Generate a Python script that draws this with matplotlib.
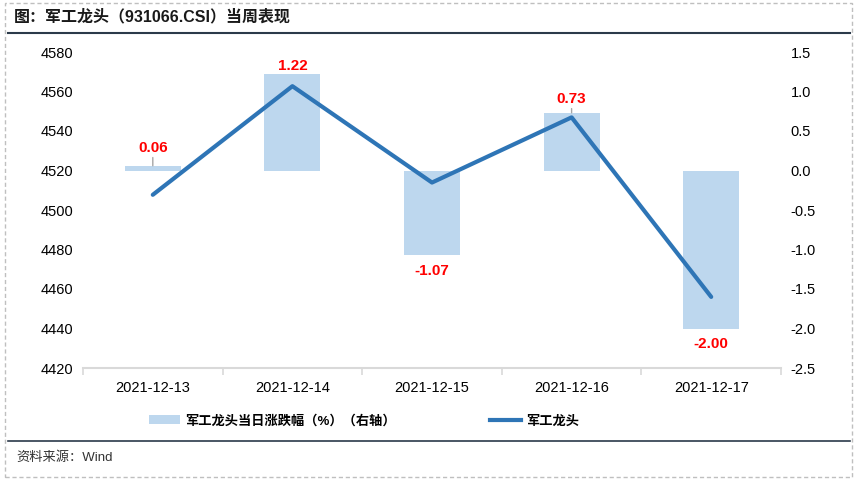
import matplotlib.pyplot as plt
from matplotlib.lines import Line2D
from matplotlib.patches import Rectangle, Patch
import numpy as np

plt.rcParams['font.family'] = ['Liberation Sans', 'Noto Sans CJK SC', 'DejaVu Sans']

dates = ['2021-12-13', '2021-12-14', '2021-12-15', '2021-12-16', '2021-12-17']
index_close = [4507.7, 4562.7, 4513.9, 4546.9, 4456.0]
pct_change = [0.06, 1.22, -1.07, 0.73, -2.00]
# label centre offsets in pixels from the bar end (positive = above)
label_offset = [18, 8, -16, 14, -15]
has_leader = [True, False, False, True, False]

bar_color = '#BDD7EE'
line_color = '#2E75B6'

fig = plt.figure(figsize=(8.58, 4.8), dpi=100)
ax = fig.add_axes([83 / 858, 1 - 368 / 480, (781 - 83) / 858, (368 - 52) / 480])
ax2 = ax.twinx()

x = np.arange(len(dates))

# bars on right axis, drawn behind the line
ax2.bar(x, pct_change, width=0.4, color=bar_color, zorder=1)
ax2.set_ylim(-2.5, 1.5)
ax2.set_yticks(np.arange(-2.5, 1.51, 0.5))
ax2.set_yticklabels([f'{v:.1f}' for v in np.arange(-2.5, 1.51, 0.5)])

for i, v in enumerate(pct_change):
    off = label_offset[i]
    arrow = None
    if has_leader[i]:
        arrow = dict(arrowstyle='-', color='#A6A6A6', lw=1, shrinkA=0, shrinkB=0)
    ax2.annotate(f'{v:.2f}', xy=(i, v), xytext=(0, off * 0.72),
                 textcoords='offset points', ha='center', va='center',
                 color='#FF0000', fontsize=11, fontweight='bold',
                 arrowprops=arrow, zorder=5)

# line on left axis
ax.set_zorder(ax2.get_zorder() + 1)
ax.patch.set_visible(False)
ax.plot(x, index_close, color=line_color, lw=3, solid_capstyle='round', zorder=3)
ax.set_ylim(4420, 4580)
ax.set_yticks(np.arange(4420, 4581, 20))
ax.set_xlim(-0.5, len(dates) - 0.5)
ax.set_xticks(x)
ax.set_xticklabels(dates)
ax.set_xticks(np.arange(-0.5, len(dates), 1), minor=True)
ax.tick_params(axis='x', which='major', length=0, pad=9, labelsize=10.5)
ax.tick_params(axis='x', which='minor', length=5, color='#D9D9D9', width=1.2)
ax.tick_params(axis='y', length=0, labelsize=10.5, pad=7)
ax2.tick_params(axis='y', length=0, labelsize=10.5, pad=7)

for a in (ax, ax2):
    for s in ['top', 'left', 'right']:
        a.spines[s].set_visible(False)
ax.spines['bottom'].set_color('#D9D9D9')
ax.spines['bottom'].set_linewidth(1.5)
ax2.spines['bottom'].set_visible(False)

# legend
handles = [Patch(facecolor=bar_color, edgecolor='none'),
           Line2D([0], [0], color=line_color, lw=3)]
labels = ['军工龙头当日涨跌幅（%）（右轴）', '军工龙头']
fig.legend(handles, labels, loc='center', bbox_to_anchor=(0.424, 1 - 421 / 480),
           ncol=2, frameon=False, columnspacing=7.15, handlelength=2.4,
           handletextpad=0.35, prop={'weight': 'bold', 'size': 9.5})

# title, rules, source
fig.text(14 / 858, 1 - 17 / 480, '图：军工龙头（931066.CSI）当周表现',
         fontsize=11.5, fontweight='bold', va='center', ha='left', color='#1a1a1a')
fig.add_artist(Line2D([8 / 858, 850 / 858], [1 - 33 / 480, 1 - 33 / 480],
                      color='#2B3A4A', lw=1.5))
fig.add_artist(Line2D([8 / 858, 850 / 858], [1 - 441 / 480, 1 - 441 / 480],
                      color='#2B3A4A', lw=1.2))
fig.text(16 / 858, 1 - 458 / 480, '资料来源：Wind', fontsize=9.5,
         va='center', ha='left', color='#333333')
fig.add_artist(Rectangle((5 / 858, 3 / 480), 847 / 858, 474 / 480,
                         transform=fig.transFigure, fill=False,
                         edgecolor='#BFBFBF', lw=1, ls=(0, (3, 2))))

fig.savefig('out.png', dpi=100)
